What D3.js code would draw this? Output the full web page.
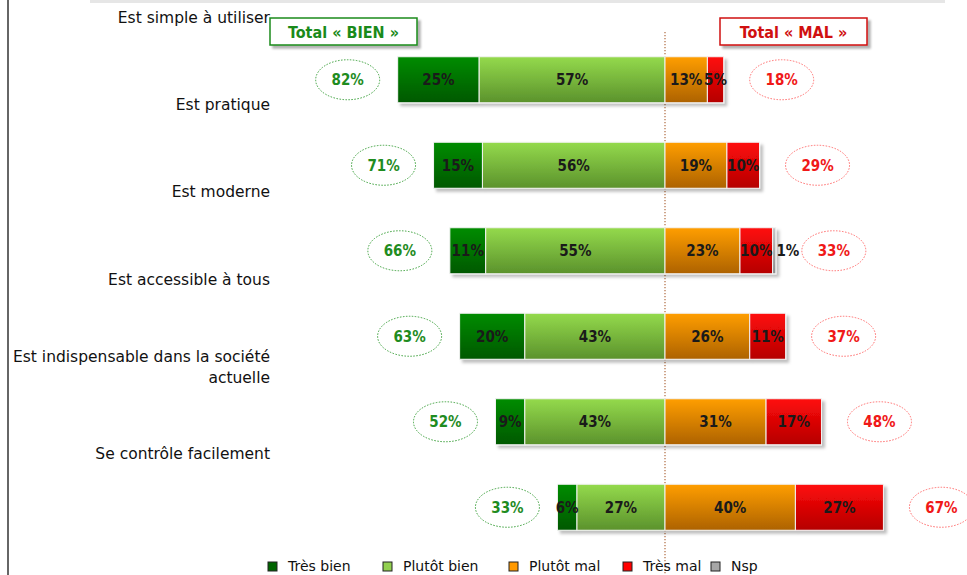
<!DOCTYPE html>
<html><head><meta charset="utf-8">
<script src="https://cdn.jsdelivr.net/npm/d3@7"></script>
<style>
html,body{margin:0;padding:0;background:#fff;}
svg{display:block;}
</style></head>
<body>
<svg id="chart" width="967" height="575"></svg>
<script>
const categories = ["Est simple à utiliser","Est pratique","Est moderne","Est accessible à tous","Est indispensable dans la société actuelle","Se contrôle facilement"];
const tresBien   = [25, 15, 11, 20,  9,  6];
const plutotBien = [57, 56, 55, 43, 43, 27];
const plutotMal  = [13, 19, 23, 26, 31, 40];
const tresMal    = [ 5, 10, 10, 11, 17, 27];
const nsp        = [ 0,  0,  1,  0,  0,  0];
const totalBien  = [82, 71, 66, 63, 52, 33];
const totalMal   = [18, 29, 33, 37, 48, 67];
const seriesNames = ["Très bien","Plutôt bien","Plutôt mal","Très mal","Nsp"];

const svg = d3.select("#chart");
const W = 967, H = 575;
const FONT = "'DejaVu Sans', Verdana, sans-serif";
const FONTC = "'DejaVu Sans Condensed', 'DejaVu Sans', sans-serif";

const grads = [
  ["g0","#008c00","#005800"],
  ["g1","#94da4c","#5b922c"],
  ["g2","#ff9e00","#ad6200"],
  ["g3","#ff0a0a","#b50000"],
  ["g4","#c4c4c4","#8c8c8c"]
];
const legendColors = ["#006400","#92d050","#ff9900","#ff0000","#a6a6a6"];
const defs = svg.append("defs");
grads.forEach(([id,a,b])=>{
  const g = defs.append("linearGradient").attr("id",id).attr("x1",0).attr("y1",0).attr("x2",0).attr("y2",1);
  g.append("stop").attr("offset","0%").attr("stop-color",a);
  g.append("stop").attr("offset","100%").attr("stop-color",b);
});
const f = defs.append("filter").attr("id","shadow").attr("x","-10%").attr("y","-20%").attr("width","130%").attr("height","160%");
f.append("feDropShadow").attr("dx",3).attr("dy",3).attr("stdDeviation",1.5).attr("flood-color","#000").attr("flood-opacity",0.25);
const f2 = defs.append("filter").attr("id","boxshadow").attr("x","-10%").attr("y","-20%").attr("width","130%").attr("height","160%");
f2.append("feDropShadow").attr("dx",3).attr("dy",3).attr("stdDeviation",1).attr("flood-color","#000").attr("flood-opacity",0.3);

// frame
svg.append("rect").attr("x",90).attr("y",0).attr("width",855).attr("height",3).attr("fill","#e6e6e6");
svg.append("line").attr("x1",8).attr("x2",8).attr("y1",0).attr("y2",H).attr("stroke","#666").attr("stroke-width",2);

const x = d3.scaleLinear().domain([-100,100]).range([665-326, 665+326]);
const y = d3.scaleBand().domain(categories).range([37,550]).paddingInner(0.462).paddingOuter(0.231);
const yl = d3.scalePoint().domain(categories).range([18,454]);

// center dotted line
svg.append("line").attr("x1",x(0)).attr("x2",x(0)).attr("y1",32).attr("y2",H)
  .attr("stroke","#b06a40").attr("stroke-width",1.2).attr("stroke-dasharray","1.2,1.8");

// header boxes
function headerBox(x0, label, color){
  svg.append("rect").attr("x",x0).attr("y",18).attr("width",147).attr("height",27)
    .attr("fill","#fff").attr("stroke",color).attr("stroke-width",1.5).attr("filter","url(#boxshadow)");
  svg.append("text").attr("x",x0+73.5).attr("y",37.5).attr("text-anchor","middle")
    .attr("font-family",FONTC).attr("font-weight","bold").attr("font-size",16).attr("fill",color).text(label);
}
headerBox(270,"Total « BIEN »","#1a8a1a");
headerBox(720,"Total « MAL »","#d01010");

// category labels
categories.forEach((c,i)=>{
  const t = svg.append("text").attr("text-anchor","end").attr("font-family",FONT).attr("font-size",15.5).attr("fill","#111");
  if (c.length > 30){
    const words = c.split(" ");
    const l1 = words.slice(0,5).join(" "), l2 = words.slice(5).join(" ");
    t.append("tspan").attr("x",270).attr("y",yl(c)-10+5).text(l1);
    t.append("tspan").attr("x",270).attr("y",yl(c)+11+5).text(l2);
  } else {
    t.attr("x",270).attr("y",yl(c)+5).text(c);
  }
});

// segments
const rows = categories.map((c,i)=>{
  const segs = [
    {k:0, v:tresBien[i],   x0:-(tresBien[i]+plutotBien[i]), x1:-plutotBien[i]},
    {k:1, v:plutotBien[i], x0:-plutotBien[i], x1:0},
    {k:2, v:plutotMal[i],  x0:0, x1:plutotMal[i]},
    {k:3, v:tresMal[i],    x0:plutotMal[i], x1:plutotMal[i]+tresMal[i]},
    {k:4, v:nsp[i],        x0:plutotMal[i]+tresMal[i], x1:plutotMal[i]+tresMal[i]+nsp[i]}
  ].filter(s=>s.v>0);
  return {c, i, segs};
});

const bh = y.bandwidth();
rows.forEach(r=>{
  const g = svg.append("g");
  const bars = g.append("g").attr("filter","url(#shadow)");
  r.segs.forEach(s=>{
    bars.append("rect").attr("x",x(s.x0)).attr("y",y(r.c)).attr("width",x(s.x1)-x(s.x0)).attr("height",bh)
      .attr("fill",`url(#g${s.k})`).attr("stroke","#f4f4f4").attr("stroke-width",1);
  });
  r.segs.forEach(s=>{
    const cx = s.k===4 ? x(s.x1)+12 : (x(s.x0)+x(s.x1))/2;
    g.append("text").attr("x",cx).attr("y",y(r.c)+bh/2+5.5).attr("text-anchor","middle")
      .attr("font-family",FONTC).attr("font-weight","bold").attr("font-size",15)
      .attr("fill","#1a1a1a").text(s.v+"%");
  });
  // totals ellipses
  const cy = y(r.c)+bh/2;
  const lx = x(-totalBien[r.i]) - 50;
  g.append("ellipse").attr("cx",lx).attr("cy",cy).attr("rx",32).attr("ry",20)
    .attr("fill","#fff").attr("stroke","#3aa03a").attr("stroke-width",1).attr("stroke-dasharray","1.5,1.5");
  g.append("text").attr("x",lx).attr("y",cy+5.5).attr("text-anchor","middle")
    .attr("font-family",FONTC).attr("font-weight","bold").attr("font-size",15).attr("fill","#1f8c1f").text(totalBien[r.i]+"%");
  const rx = x(totalMal[r.i]+nsp[r.i]) + 58;
  g.append("ellipse").attr("cx",rx).attr("cy",cy).attr("rx",32).attr("ry",20)
    .attr("fill","#fff").attr("stroke","#ff6a6a").attr("stroke-width",1).attr("stroke-dasharray","1.5,1.5");
  g.append("text").attr("x",rx).attr("y",cy+5.5).attr("text-anchor","middle")
    .attr("font-family",FONTC).attr("font-weight","bold").attr("font-size",15).attr("fill","#f01818").text(totalMal[r.i]+"%");
});

// legend
const legX = [268, 383, 509, 623, 711];
seriesNames.forEach((n,i)=>{
  svg.append("rect").attr("x",legX[i]).attr("y",562).attr("width",9).attr("height",9)
    .attr("fill",legendColors[i]).attr("stroke","#222").attr("stroke-width",1);
  svg.append("text").attr("x",legX[i]+20).attr("y",571).attr("font-family",FONT).attr("font-size",14)
    .attr("fill","#111").text(n);
});
</script>
</body></html>
